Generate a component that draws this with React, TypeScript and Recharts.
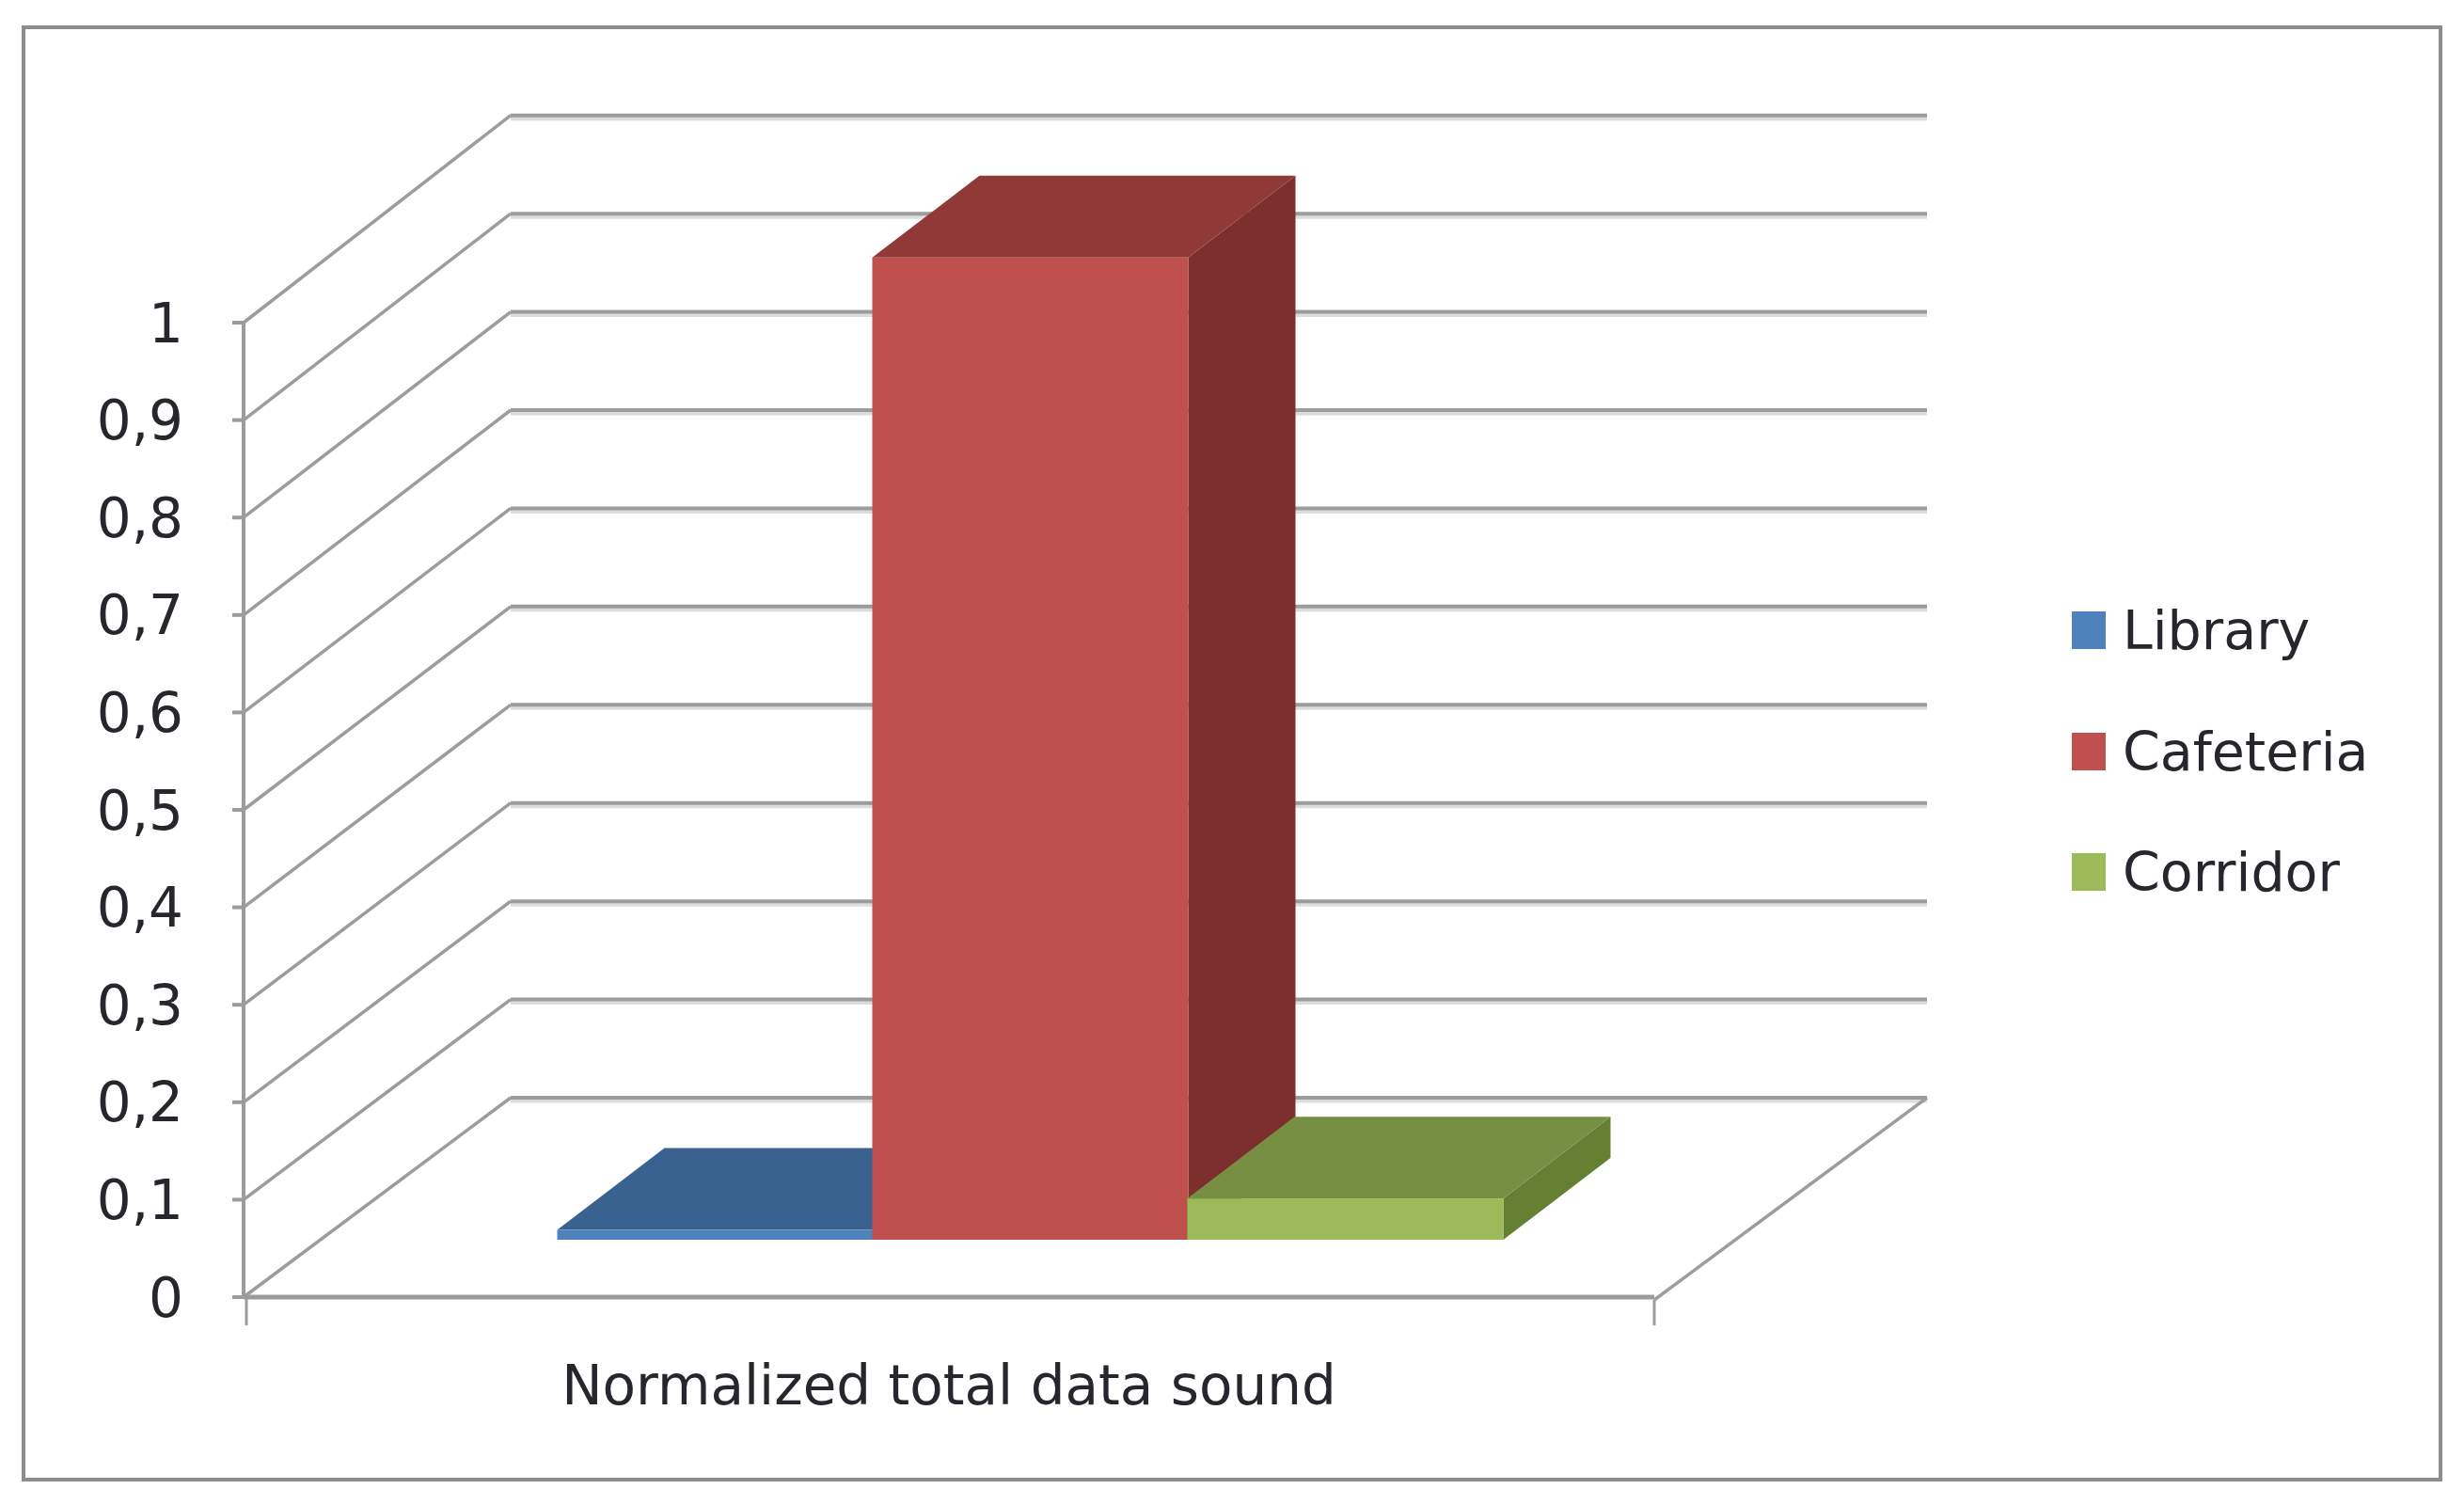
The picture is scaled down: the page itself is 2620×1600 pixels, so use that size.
import { Bar, BarChart, CartesianGrid, Legend, XAxis, YAxis } from 'recharts';

const categories = ['Normalized total data sound'];
const seriesNames = ['Library', 'Cafeteria', 'Corridor'];
const libraryValues = [0.01];
const cafeteriaValues = [1];
const corridorValues = [0.042];
const valueTicks = [0, 0.1, 0.2, 0.3, 0.4, 0.5, 0.6, 0.7, 0.8, 0.9, 1];

const frontColors = ['#4f81bd', '#c0504d', '#9bbb59'];
const topColors = ['#3a6290', '#903a38', '#778f43'];
const sideColors = ['#2f527a', '#7c2f2d', '#648032'];

const chartData = categories.map((category, index) => ({
    category,
    [seriesNames[0]]: libraryValues[index],
    [seriesNames[1]]: cafeteriaValues[index],
    [seriesNames[2]]: corridorValues[index],
}));

const FONT = '"DejaVu Sans", sans-serif';
const TEXT_COLOR = '#26262c';
const AXIS_COLOR = '#9c9c9c';

// fake 3D: how far the walls run back, and where the bars sit in that depth
const FLOOR_Y = 1379;
const WALL_DX = 284;
const WALL_RIGHT_DX = 290;
const WALL_DY = 212;
// the back wall and the bars are drawn a touch taller than the front axis
const DEPTH_STRETCH = 1.008;
const BAR_SHIFT_X = 86;
const BAR_SHIFT_Y = 61;
const BAR_DEPTH_X = 114;
const BAR_DEPTH_Y = 87;

function WallLine({ x1, x2, y1, index }: any) {
    const backY = FLOOR_Y - WALL_DY - (FLOOR_Y - y1) * DEPTH_STRETCH;
    const backLeft = x1 + WALL_DX;
    const backRight = x2 + WALL_RIGHT_DX;

    return (
        <g>
            <line x1={backLeft} y1={backY + 3} x2={backRight} y2={backY + 3} stroke="#dcdcdc" strokeWidth={5} />
            <line x1={backLeft} y1={backY} x2={backRight} y2={backY} stroke={AXIS_COLOR} strokeWidth={4} />
            <line x1={x1} y1={y1} x2={backLeft} y2={backY} stroke={AXIS_COLOR} strokeWidth={3.5} />
            {y1 > 1300 && index !== undefined && (
                <>
                    <line x1={x2} y1={y1 + 3} x2={backRight} y2={backY} stroke={AXIS_COLOR} strokeWidth={3.5} />
                    <line x1={x1 + 3} y1={y1} x2={x1 + 3} y2={y1 + 30} stroke={AXIS_COLOR} strokeWidth={3} />
                    <line x1={x2} y1={y1 + 3} x2={x2} y2={y1 + 30} stroke={AXIS_COLOR} strokeWidth={3} />
                </>
            )}
        </g>
    );
}

function Bar3D({ x, y, width, height, fill, topFill, sideFill }: any) {
    const left = x + BAR_SHIFT_X;
    const right = left + width + 1;
    const bottom = y + height - BAR_SHIFT_Y;
    const top = bottom - height * DEPTH_STRETCH;
    const backTop = top - BAR_DEPTH_Y;
    const backBottom = bottom - BAR_DEPTH_Y;
    const backLeft = left + BAR_DEPTH_X;
    const backRight = right + BAR_DEPTH_X;

    return (
        <g>
            <polygon
                points={`${right},${top} ${backRight},${backTop} ${backRight},${backBottom} ${right},${bottom}`}
                fill={sideFill}
            />
            <polygon
                points={`${left},${top} ${backLeft},${backTop} ${backRight},${backTop} ${right},${top}`}
                fill={topFill}
            />
            <rect x={left} y={top} width={right - left} height={bottom - top} fill={fill} />
        </g>
    );
}

function LegendList({ payload }: any) {
    return (
        <div style={{ fontFamily: FONT, fontSize: 57, color: TEXT_COLOR }}>
            {payload.map((entry: any) => (
                <div key={entry.value} style={{ display: 'flex', alignItems: 'center', height: 128.5 }}>
                    <span style={{ width: 36, height: 40, background: entry.color, marginRight: 18 }} />
                    {entry.value}
                </div>
            ))}
        </div>
    );
}

export default function App() {
    return (
        <div style={{ position: 'absolute', left: 0, top: 0, width: 2620, height: 1600, background: '#fff' }}>
            <div
                style={{
                    position: 'absolute',
                    left: 23,
                    top: 27,
                    width: 2566,
                    height: 1540,
                    border: '4px solid #8c8c8c',
                }}
            />
            <BarChart
                width={2620}
                height={1600}
                data={chartData}
                margin={{ top: 343, right: 861, bottom: 0, left: 0 }}
                barCategoryGap="16.5%"
                barGap={0}
            >
                <CartesianGrid vertical={false} horizontal={(props: any) => <WallLine key={props.key} {...props} />} />
                <XAxis
                    dataKey="category"
                    height={221}
                    tickLine={false}
                    tickMargin={67}
                    axisLine={{ stroke: AXIS_COLOR, strokeWidth: 5 }}
                    tick={{ fill: TEXT_COLOR, fontSize: 58, fontFamily: FONT }}
                />
                <YAxis
                    width={259}
                    domain={[0, 1]}
                    ticks={valueTicks}
                    interval={0}
                    tickSize={12}
                    tickMargin={52}
                    tickFormatter={(value) => String(value).replace('.', ',')}
                    axisLine={{ stroke: AXIS_COLOR, strokeWidth: 4 }}
                    tickLine={{ stroke: AXIS_COLOR, strokeWidth: 4 }}
                    tick={{ fill: TEXT_COLOR, fontSize: 58, fontFamily: FONT }}
                />
                <Legend
                    layout="vertical"
                    align="center"
                    verticalAlign="middle"
                    itemSorter={null}
                    wrapperStyle={{ left: 2203, top: 606, width: 400 }}
                    content={LegendList}
                />
                {seriesNames.map((name, index) => (
                    <Bar
                        key={name}
                        dataKey={name}
                        fill={frontColors[index]}
                        isAnimationActive={false}
                        shape={(props: any) => (
                            <Bar3D {...props} topFill={topColors[index]} sideFill={sideColors[index]} />
                        )}
                    />
                ))}
            </BarChart>
        </div>
    );
}
